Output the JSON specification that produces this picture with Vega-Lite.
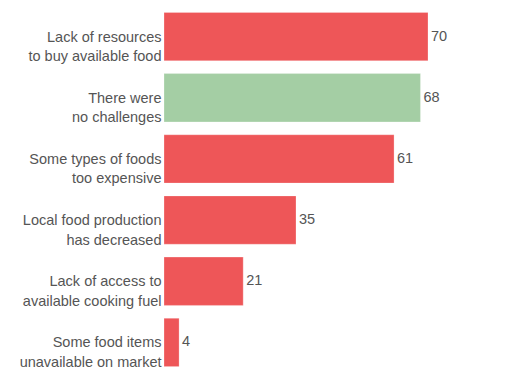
{
  "$schema": "https://vega.github.io/schema/vega-lite/v6.json",
  "width": 264,
  "height": 367,
  "autosize": "none",
  "padding": {"left": 164, "top": 6, "right": 78, "bottom": 10},
  "config": {"view": {"stroke": null}, "font": "Liberation Sans"},
  "data": {
    "values": [
      {"label": "Lack of resources|to buy available food", "value": 70, "kind": "challenge"},
      {"label": "There were|no challenges", "value": 68, "kind": "none"},
      {"label": "Some types of foods|too expensive", "value": 61, "kind": "challenge"},
      {"label": "Local food production|has decreased", "value": 35, "kind": "challenge"},
      {"label": "Lack of access to|available cooking fuel", "value": 21, "kind": "challenge"},
      {"label": "Some food items|unavailable on market", "value": 4, "kind": "challenge"}
    ]
  },
  "encoding": {
    "y": {
      "field": "label", "type": "nominal", "sort": null,
      "scale": {"paddingInner": 0.21, "paddingOuter": 0.105},
      "axis": {
        "title": null, "domain": false, "ticks": false, "labelPadding": 3,
        "labelExpr": "split(datum.value, '|')",
        "labelFontSize": 14.5, "labelColor": "#555555", "labelLineHeight": 19.5,
        "labelFont": "Liberation Sans", "labelLimit": 200, "labelOffset": 1
      }
    },
    "x": {
      "field": "value", "type": "quantitative",
      "scale": {"domain": [0, 70]},
      "axis": null
    }
  },
  "layer": [
    {
      "mark": {"type": "bar", "stroke": "#ffffff", "strokeOpacity": 0.5, "strokeWidth": 0.5},
      "encoding": {
        "color": {
          "field": "kind", "type": "nominal",
          "scale": {"domain": ["challenge", "none"], "range": ["#ee5658", "#a4cea4"]},
          "legend": null
        }
      }
    },
    {
      "mark": {"type": "text", "align": "left", "baseline": "middle", "dx": 3, "fontSize": 14.5, "color": "#555555", "font": "Liberation Sans"},
      "encoding": {"text": {"field": "value", "type": "quantitative"}}
    }
  ]
}
